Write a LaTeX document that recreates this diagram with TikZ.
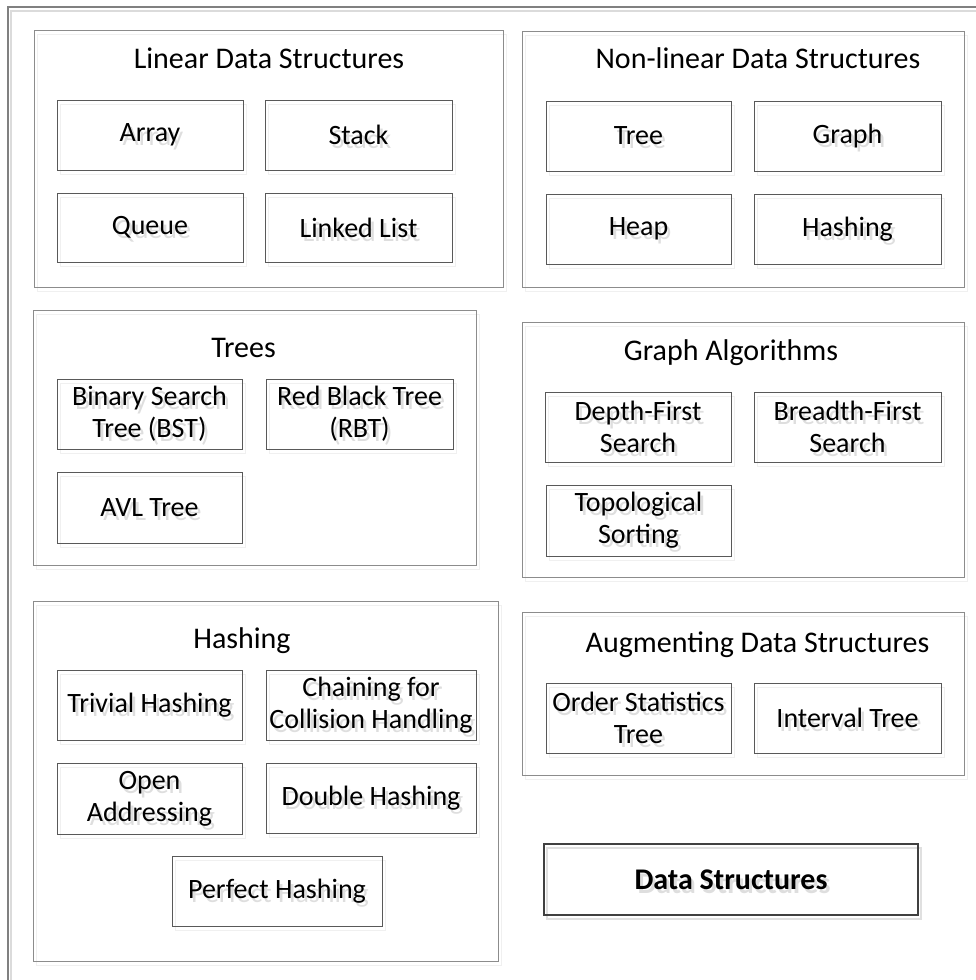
\documentclass[tikz,border=0pt]{standalone}
\usepackage{fontspec}
\setmainfont{Carlito}

% box from corner (x1,y1) to corner (x2,y2), y grows downwards
\newcommand\bx[7]{%
  \node[#1, minimum width={#5pt-#3pt}, minimum height={#6pt-#4pt}]
    (#2) at ({(#3+#5)/2},{(#4+#6)/2}) {#7};}
% panel titles cast no shadow: this prints them only in the main pass
\newcommand\ttltext[1]{#1}

% whole layout; drawn once as a soft offset shadow, then in full colour
\newcommand\dsdiagram{%
  \draw[frame] (8,7) rectangle (1000,1000);
  % group panels
  \bx{grp}{g-lin}{34}{30}{503}{287}{}
  \bx{grp}{g-nonlin}{522}{31}{964}{287}{}
  \bx{grp}{g-trees}{33}{310}{476}{565}{}
  \bx{grp}{g-graph}{522}{322}{964}{577}{}
  \bx{grp}{g-hash}{33}{601}{498}{961}{}
  \bx{grp}{g-aug}{522}{612}{964}{775}{}
  % panel titles
  \node[ttl] (t-lin)    at (269,68)  {\ttltext{Linear Data Structures}};
  \node[ttl] (t-nonlin) at (758,68)  {\ttltext{Non-linear Data Structures}};
  \node[ttl] (t-trees)  at (243.5,357) {\ttltext{Trees}};
  \node[ttl] (t-graph)  at (731,360) {\ttltext{Graph Algorithms}};
  \node[ttl] (t-hash)   at (242,648) {\ttltext{Hashing}};
  \node[ttl] (t-aug)    at (757.5,652) {\ttltext{Augmenting Data Structures}};
  % linear structures
  \bx{ibox}{array}{57}{100}{243}{170}{Array}
  \bx{ibox}{stack}{265}{100}{452}{170}{Stack}
  \bx{ibox}{queue}{57}{193}{243}{262}{Queue}
  \bx{ibox}{llist}{265}{193}{452}{262}{Linked List}
  % non-linear structures
  \bx{ibox}{tree}{546}{101}{731}{171}{Tree}
  \bx{ibox}{graph}{754}{101}{941}{171}{Graph}
  \bx{ibox}{heap}{546}{194}{731}{264}{Heap}
  \bx{ibox}{hashing}{754}{194}{941}{264}{Hashing}
  % trees
  \bx{ibox}{bst}{57}{379}{242}{449}{Binary Search\\Tree (BST)}
  \bx{ibox}{rbt}{266}{379}{453}{449}{Red Black Tree\\(RBT)}
  \bx{ibox}{avl}{57}{472}{242}{543}{AVL Tree}
  % graph algorithms
  \bx{ibox}{dfs}{545}{392}{731}{462}{Depth-First\\Search}
  \bx{ibox}{bfs}{754}{392}{941}{462}{Breadth-First\\Search}
  \bx{ibox}{topo}{546}{485}{731}{556}{Topological\\Sorting}
  % hashing
  \bx{ibox}{trivial}{57}{670}{242}{740}{Trivial Hashing}
  \bx{ibox}{chain}{266}{670}{476}{740}{Chaining for\\Collision Handling}
  \bx{ibox}{open}{57}{763}{242}{834}{Open\\Addressing}
  \bx{ibox}{double}{266}{763}{476}{833}{Double Hashing}
  \bx{ibox}{perfect}{172}{856}{382}{926}{Perfect Hashing}
  % augmenting
  \bx{ibox}{ost}{546}{683}{731}{753}{Order Statistics\\Tree}
  \bx{ibox}{interval}{754}{683}{941}{753}{Interval Tree}
  % main label
  \bx{root}{ds}{544}{844}{918}{915}{Data Structures}
}

\begin{document}
\begin{tikzpicture}[x=1pt, y=-1pt]
  \useasboundingbox (0,0) rectangle (976,980);
  \clip (0,0) rectangle (976,980);
  % shadow pass
  \begin{scope}[shift={(3,4)},
      frame/.style={draw=black!14, line width=1.3pt},
      grp/.style={draw=black!6, line width=1pt, inner sep=0pt},
      ibox/.style={draw=black!6, line width=1pt, align=center, inner sep=0pt,
        text=black!13, font=\fontsize{28}{32}\selectfont},
      ttl/.style={anchor=base},
      root/.style={draw=black!12, line width=2.5pt, text=black!13,
        font=\bfseries\fontsize{30}{34}\selectfont}]
    \renewcommand\ttltext[1]{}
    \dsdiagram
  \end{scope}
  % main pass
  \begin{scope}[
      frame/.style={draw=black!50, line width=1.3pt},
      grp/.style={draw=black!45, line width=1pt, inner sep=0pt},
      ibox/.style={draw=black!65, line width=1pt, align=center, inner sep=0pt,
        font=\fontsize{28}{32}\selectfont},
      ttl/.style={font=\fontsize{30}{34}\selectfont, anchor=base},
      root/.style={draw=black!75, line width=2.5pt,
        font=\bfseries\fontsize{30}{34}\selectfont}]
    \dsdiagram
  \end{scope}
\end{tikzpicture}
\end{document}
